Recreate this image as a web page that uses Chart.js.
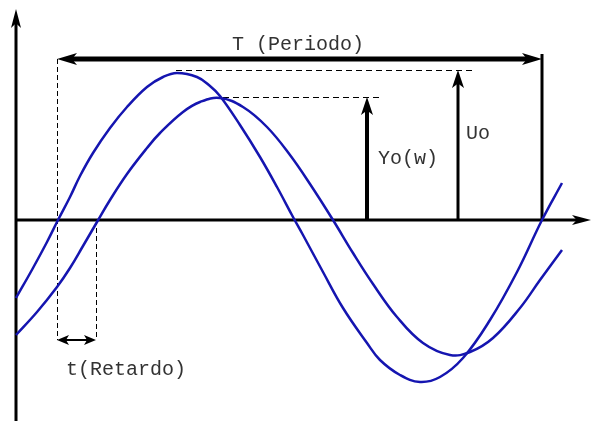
<!DOCTYPE html>
<html>
<head>
<meta charset="utf-8">
<script src="https://cdn.jsdelivr.net/npm/chart.js@4/dist/chart.umd.min.js"></script>
<style>
  body { margin: 0; background: #fff; }
  #wrap { width: 592px; height: 421px; }
</style>
</head>
<body>
<div id="wrap"><canvas id="myChart" width="592" height="421"></canvas></div>
<script>
// time axis samples and values (amplitude, axis at 0)
const uTimes = [16, 33, 47, 58, 70, 80, 93, 110, 127, 147, 163, 177, 197, 210, 220, 240, 260, 277, 293, 303, 323, 343, 367, 380, 400, 420, 440, 463, 490, 517, 542, 562];
const uValues = [-78, -48, -22, 0, 23, 44, 67, 92, 113, 133, 143, 147, 143, 134, 124, 95, 63, 33, 3, -15, -52, -88, -123, -140, -155, -162, -157, -138, -100, -52, 0, 37];

const yTimes = [16, 37, 57, 70, 83, 97, 110, 127, 147, 160, 183, 200, 220, 243, 267, 290, 310, 333, 353, 373, 397, 423, 450, 470, 493, 520, 540, 562];
const yValues = [-115, -92, -67, -48, -26, -2, 20, 46, 72, 87, 108, 118, 122, 113, 93, 65, 36, 0, -33, -64, -97, -123, -135, -132, -118, -88, -60, -30];

// annotation values
const periodStart = 57;
const periodEnd = 542;
const delayEnd = 96;
const uoAmp = 150;
const yoAmp = 123;
const uoTime = 458;
const yoTime = 367;
const labels = ["T (Periodo)", "t(Retardo)", "Yo(w)", "Uo"];

function toPoints(xs, ys) {
  return xs.map((x, i) => ({ x: x, y: ys[i] }));
}

function arrowHead(c, x, y, dx, dy, len, half) {
  // tip at (x,y), pointing along (dx,dy)
  let nx = -dy, ny = dx;
  let bx = x - dx * len, by = y - dy * len;
  let mx = x - dx * len * 0.75, my = y - dy * len * 0.75;
  c.beginPath();
  c.moveTo(x, y);
  c.lineTo(bx + nx * half, by + ny * half);
  c.lineTo(mx, my);
  c.lineTo(bx - nx * half, by - ny * half);
  c.closePath();
  c.fill();
}

function line(c, x1, y1, x2, y2, w, dash) {
  c.save();
  c.lineWidth = w;
  c.setLineDash(dash || []);
  c.beginPath();
  c.moveTo(x1, y1);
  c.lineTo(x2, y2);
  c.stroke();
  c.restore();
}

const diagram = {
  id: "diagram",
  beforeDatasetsDraw(chart) {
    const c = chart.ctx;
    const sx = chart.scales.x, sy = chart.scales.y;
    const px = (v) => sx.getPixelForValue(v);
    const py = (v) => sy.getPixelForValue(v);
    c.save();
    c.strokeStyle = "#000";
    c.fillStyle = "#000";

    // axes
    line(c, px(16), py(sy.min), px(16), py(200), 3);
    arrowHead(c, px(16), py(211), 0, -1, 19, 5);
    line(c, px(16), py(0), px(580), py(0), 3);
    arrowHead(c, px(591), py(0), 1, 0, 19, 5);

    // dashed guides (half pixel offset keeps 1px lines crisp)
    line(c, px(periodStart) + 0.5, py(161), px(periodStart) + 0.5, py(-120), 1, [5, 3]);
    line(c, px(delayEnd) + 0.5, py(0), px(delayEnd) + 0.5, py(-120), 1, [5, 3]);
    line(c, px(176), py(uoAmp) + 0.5, px(473), py(uoAmp) + 0.5, 1, [6, 4]);
    line(c, px(213), py(yoAmp) + 0.5, px(379), py(yoAmp) + 0.5, 1, [6, 4]);

    // period arrow
    line(c, px(periodStart + 15), py(161), px(periodEnd - 15), py(161), 5);
    arrowHead(c, px(periodStart), py(161), -1, 0, 20, 6);
    arrowHead(c, px(periodEnd), py(161), 1, 0, 20, 6);
    line(c, px(periodEnd), py(0), px(periodEnd), py(166), 3);

    // amplitude arrows
    line(c, px(uoTime), py(0), px(uoTime), py(uoAmp - 12), 3);
    arrowHead(c, px(uoTime), py(uoAmp), 0, -1, 18, 6);
    line(c, px(yoTime), py(0), px(yoTime), py(yoAmp - 12), 4);
    arrowHead(c, px(yoTime), py(yoAmp), 0, -1, 18, 6);

    // delay arrow
    line(c, px(periodStart + 6), py(-120), px(delayEnd - 6), py(-120), 2);
    arrowHead(c, px(periodStart), py(-120), -1, 0, 12, 5);
    arrowHead(c, px(delayEnd), py(-120), 1, 0, 12, 5);

    // texts
    c.font = '20px "Liberation Mono", "Courier New", monospace';
    c.fillStyle = "#333";
    c.textBaseline = "alphabetic";
    c.textAlign = "left";
    c.fillText(labels[0], px(232), py(170));
    c.fillText(labels[1], px(66), py(-155));
    c.fillText(labels[2], px(378), py(56));
    c.fillText(labels[3], px(466), py(81));
    c.restore();
  }
};

const ctx = document.getElementById("myChart").getContext("2d");
const myChart = new Chart(ctx, {
  type: "line",
  data: {
    datasets: [
      {
        label: "Uo",
        data: toPoints(uTimes, uValues),
        borderColor: "#1515b0",
        borderWidth: 2.5,
        pointRadius: 0,
        tension: 0.4,
        fill: false,
      },
      {
        label: "Yo",
        data: toPoints(yTimes, yValues),
        borderColor: "#1515b0",
        borderWidth: 2.5,
        pointRadius: 0,
        tension: 0.4,
        fill: false,
      },
    ],
  },
  options: {
    responsive: false,
    devicePixelRatio: 1,
    animation: false,
    layout: { padding: 0 },
    plugins: {
      legend: { display: false },
      tooltip: { enabled: false },
    },
    scales: {
      x: { type: "linear", min: 0, max: 592, display: false },
      y: { min: -201, max: 220, display: false },
    },
  },
  plugins: [diagram],
});
</script>
</body>
</html>
